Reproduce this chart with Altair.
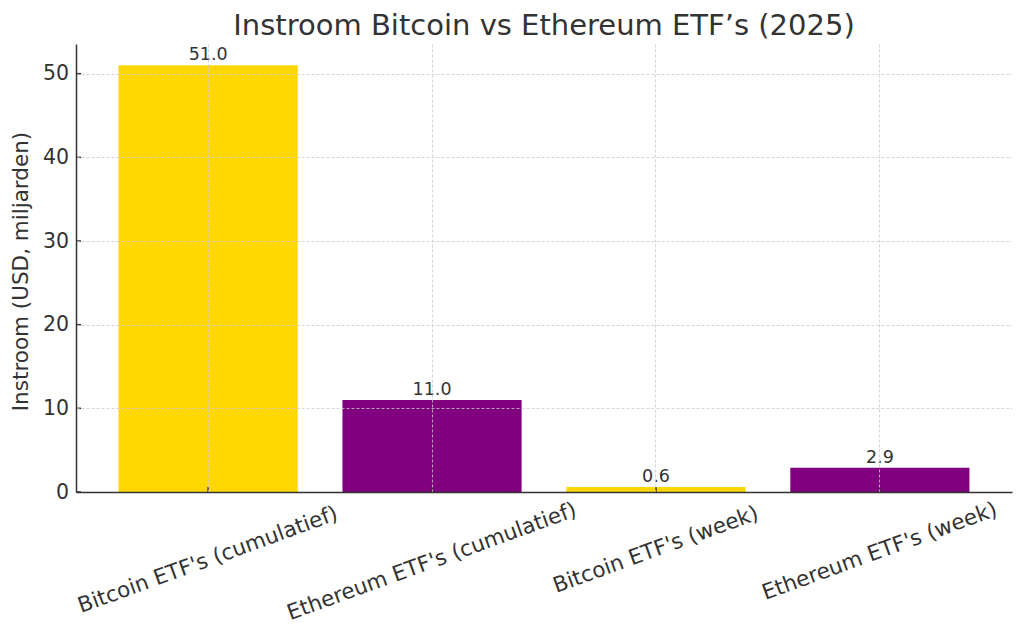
import altair as alt
import pandas as pd

GOLD = "#FFD700"
PURPLE = "#800080"
INK = "#333333"
GRID = "#cccccc"
FONT = "DejaVu Sans"

categories = [
    "Bitcoin ETF's (cumulatief)",
    "Ethereum ETF's (cumulatief)",
    "Bitcoin ETF's (week)",
    "Ethereum ETF's (week)",
]
inflow = [51.0, 11.0, 0.6, 2.9]
bar_colors = [GOLD, PURPLE, GOLD, PURPLE]
y_ticks = [0, 10, 20, 30, 40, 50]

W, H = 936, 448

df = pd.DataFrame({"cat": categories, "v": inflow, "kleur": bar_colors})
ticks_df = pd.DataFrame({"v": y_ticks})

x_enc = alt.X(
    "cat:N",
    sort=categories,
    title=None,
    scale=alt.Scale(paddingInner=0.2, paddingOuter=0.19),
    axis=alt.Axis(
        grid=True,
        gridColor=GRID,
        gridDash=[3, 2],
        gridWidth=0.8,
        domainColor=INK,
        domainWidth=1.5,
        ticks=False,
        labelAngle=-20,
        labelAlign="center",
        labelBaseline="middle",
        labelFontSize=21.5,
        labelColor=INK,
        labelFont=FONT,
        labelLimit=500,
        # rotated labels: longer text sits a bit lower, as in the original
        labelPadding={
            "condition": {"test": "false", "value": 0},
            "expr": "68 + (length(datum.label) - 26) * 1.7",
        },
        zindex=1,
    ),
)
y_enc = alt.Y(
    "v:Q",
    scale=alt.Scale(domain=[0, 53.55], nice=False),
    axis=alt.Axis(
        values=y_ticks,
        title="Instroom (USD, miljarden)",
        titleFont=FONT,
        titleFontSize=21.5,
        titleFontWeight="normal",
        titleColor=INK,
        titleAngle=-90,
        titleBaseline="alphabetic",
        titleX=-49,
        titleY=227,
        grid=True,
        gridColor=GRID,
        gridDash=[3, 2],
        gridWidth=0.8,
        domainColor=INK,
        domainWidth=1.5,
        ticks=False,
        labelPadding=7.5,
        labelFontSize=20.5,
        labelColor=INK,
        labelFont=FONT,
        zindex=1,
    ),
)

base = alt.Chart(df).encode(x=x_enc, y=y_enc)

bars = base.mark_bar().encode(color=alt.Color("kleur:N", scale=None))

labels = base.mark_text(
    baseline="alphabetic", dy=-5, fontSize=17.5, font=FONT, color=INK
).encode(text=alt.Text("v:Q", format=".1f"))

x_ticks = alt.Chart(df).mark_rule(color=INK, strokeWidth=1.5).encode(
    x=x_enc,
    y=alt.value(H),
    y2=alt.value(H - 5),
)

y_tick_marks = alt.Chart(ticks_df).mark_rule(color=INK, strokeWidth=1.5).encode(
    y=y_enc,
    x=alt.value(0),
    x2=alt.value(5),
)

chart = (
    alt.layer(bars, labels, x_ticks, y_tick_marks)
    .properties(
        width=W,
        height=H,
        autosize=alt.AutoSizeParams(type="none"),
        padding={"left": 68, "top": 36, "right": 4, "bottom": 139},
        title=alt.TitleParams(
            "Instroom Bitcoin vs Ethereum ETF’s (2025)",
            font=FONT,
            fontSize=29,
            fontWeight="normal",
            color=INK,
            offset=3,
            anchor="middle",
        ),
    )
    .configure_view(strokeWidth=0)
)

chart.save("out.html", embed_options={"renderer": "svg", "actions": False})
